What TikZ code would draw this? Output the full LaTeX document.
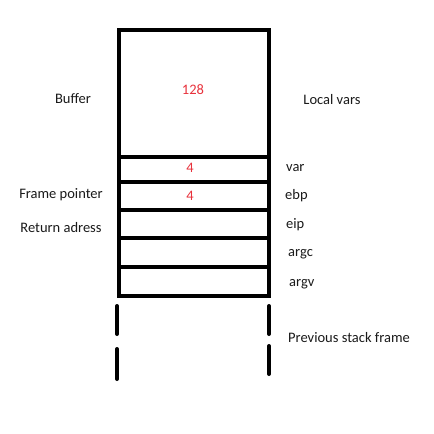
\documentclass[tikz,border=0pt]{standalone}
\usepackage{fontspec}
\setmainfont{Carlito}
\definecolor{txt}{HTML}{1A1A1A}
\definecolor{num}{HTML}{E8323C}
\begin{document}
\begin{tikzpicture}[x=1pt,y=-1pt,
  cell/.style={draw=black, line width=4pt, rectangle, inner sep=0pt, minimum width=150pt},
  lbl/.style={font=\fontsize{14.5}{17}\selectfont, text=txt, inner sep=0pt},
  numlbl/.style={font=\fontsize{14.5}{17}\selectfont, text=num, inner sep=0pt},
  gap/.style={line width=4pt, line cap=round}]
\useasboundingbox[fill=white] (0,0) rectangle (434,434);
% stack cells
\node[cell, minimum height=127pt] (buf) at (194,93.5) {};
\node[cell, minimum height=25pt] (var) at (194,169.5) {};
\node[cell, minimum height=28pt] (ebp) at (194,196) {};
\node[cell, minimum height=28pt] (eip) at (194,224) {};
\node[cell, minimum height=29pt] (argc) at (194,252.5) {};
\node[cell, minimum height=29pt] (argv) at (194,281.5) {};
% numbers
\node[numlbl] (n128) at (193,90) {128};
\node[numlbl] (n4a) at (190,168) {4};
\node[numlbl] (n4b) at (190,196) {4};
% left labels
\node[lbl] (lbuf) at (73,99) {Buffer};
\node[lbl] (lfp) at (61,195) {Frame pointer};
\node[lbl] (lra) at (61,228) {Return adress};
% right labels
\node[lbl] (rlv) at (332,100) {Local vars};
\node[lbl, anchor=west] (rvar) at (286,168) {var};
\node[lbl, anchor=west] (rebp) at (285,196) {ebp};
\node[lbl, anchor=west] (reip) at (286,225) {eip};
\node[lbl, anchor=west] (rargc) at (288,254) {argc};
\node[lbl, anchor=west] (rargv) at (289,284) {argv};
\node[lbl, anchor=west] (rprev) at (288,338) {Previous stack frame};
% dashed continuation
\coordinate (l1a) at (117,306); \coordinate (l1b) at (117,334);
\coordinate (l2a) at (117,349); \coordinate (l2b) at (117,379);
\coordinate (r1a) at (269,306); \coordinate (r1b) at (269,334);
\coordinate (r2a) at (269,346); \coordinate (r2b) at (269,374);
\draw[gap] (l1a) -- (l1b);
\draw[gap] (l2a) -- (l2b);
\draw[gap] (r1a) -- (r1b);
\draw[gap] (r2a) -- (r2b);
\end{tikzpicture}
\end{document}
